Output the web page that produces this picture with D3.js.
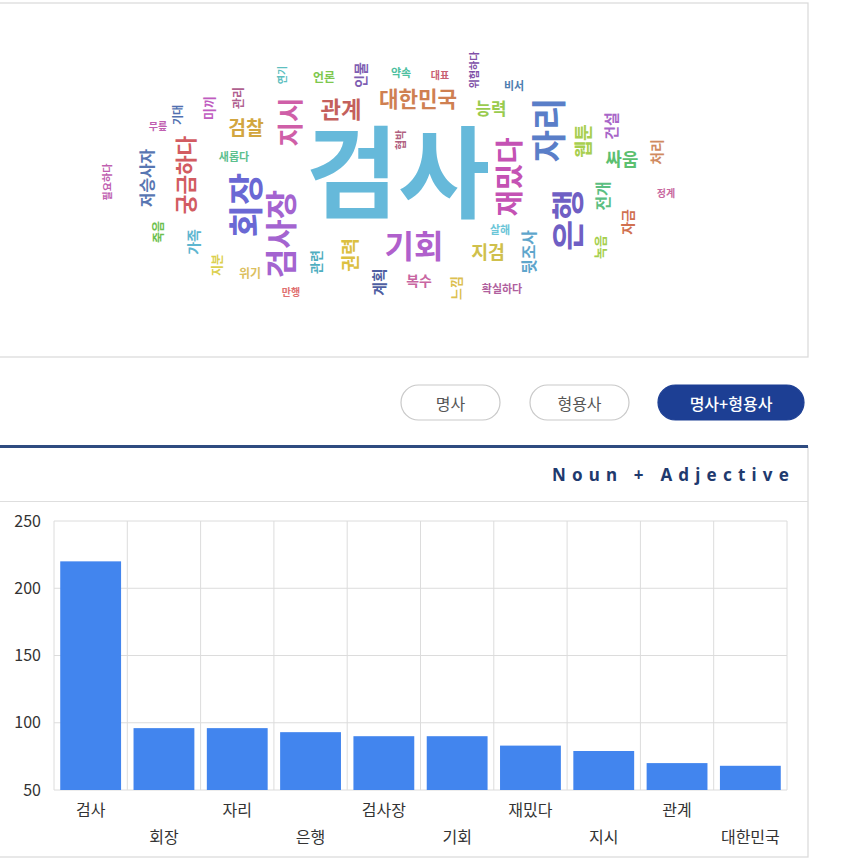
<!DOCTYPE html>
<html><head><meta charset="utf-8">
<script src="https://cdn.jsdelivr.net/npm/d3@7"></script>
<style>body{margin:0;background:#fff}svg{display:block}</style>
</head><body>
<svg id="c" width="850" height="860"></svg>
<script>
// ---------- DATA ----------
const categories = ["검사","회장","자리","은행","검사장","기회","재밌다","지시","관계","대한민국"];
const counts     = [220, 96, 96, 93, 90, 90, 83, 79, 70, 68];
const yTicks     = [50, 100, 150, 200, 250];
const buttons    = ["명사","형용사","명사+형용사"];
const chartTitle = "Noun + Adjective";

// word cloud: word, weight (frequency estimate)
const cloudWords = ["검사","회장","자리","은행","검사장","기회","재밌다","지시","관계","대한민국",
  "궁금하다","검찰","능력","지검","권력","웹툰","싸움","저승사자","뒷조사","전개",
  "계획","건설","복수","인물","가족","자금","처리","느낌","녹음","미끼",
  "관련","언론","죽음","지분","위기","관리","살해","확실하다","비서","약속",
  "기대","새롭다","협박","위험하다","대표","연기","무릎","필요하다","정계","만행"];
const cloudWeights = [220,96,96,93,90,90,83,79,70,68,
  68,64,59,62,62,62,61,57,57,57,
  55,55,53,53,53,53,53,51,51,51,
  51,49,49,49,49,49,47,47,47,47,
  47,47,47,45,45,45,45,45,45,45];
// layout of the cloud (center x, center y, rotation)
const cloudX = [398,243,546,565,279,414,507,288,341,418,
  184,246,491,488,349,582,622,146,528,602,
  378,610,419,360,193,627,656,455,599,208,
  315,324,157,216,250,237,500,502,514,401,
  177,234,400,473,440,281,158,106,666,291];
const cloudY = [166,205,130,220,234,244,177,122,108,97,
  175,127,107,251,255,141,158,178,252,196,
  282,126,280,75,242,222,152,288,247,108,
  262,76,232,265,272,98,229,288,85,72,
  115,156,140,70,74,75,125,182,192,291];
const cloudRot = [0,-90,-90,-90,-90,0,-90,-90,0,0,
  -90,0,0,0,-90,-90,0,-90,-90,-90,
  -90,-90,0,-90,-90,-90,-90,-90,-90,-90,
  -90,0,-90,-90,0,-90,0,0,0,0,
  -90,0,-90,-90,0,-90,0,-90,0,0];
const cloudColors = ["#66b9da","#6a68d4","#5a7ec8","#6f5fc4","#a464d0","#b060cc","#c452b4","#cf5fa8","#c4605c","#cf8052",
  "#d25c62","#d2a640","#9acb4e","#cfc04c","#dcc040","#a8cf4e","#5cc070","#5876b2","#5ea6cc","#5cbf82",
  "#4e5ea2","#a866c8","#c866a2","#7e5eb2","#5eb6d0","#d07050","#d08a60","#dcc050","#a6cf4e","#c05cc0",
  "#4eaec0","#7ec84e","#6cc04e","#dcd04e","#dcc060","#b06090","#6cc6d8","#b0609e","#4e7eb0","#4ebfa0",
  "#5070b0","#5cc08e","#b06080","#8050a8","#c86070","#5ebfc0","#c05eb0","#c060b0","#c868a0","#e07070"];

// ---------- DRAW ----------
const svg = d3.select("#c");
const KR = "'Noto Sans CJK KR','Noto Sans',sans-serif";

// top panel
svg.append("rect").attr("x",-2).attr("y",3).attr("width",810).attr("height",354)
  .attr("fill","#fff").attr("stroke","#d9d9d9").attr("stroke-width",1.2);

const fsz = d3.scaleLinear().domain([45,96,220]).range([10,35,100]);
const cloud = svg.append("g");
cloudWords.forEach((w,i)=>{
  cloud.append("text")
    .attr("transform",`translate(${cloudX[i]},${cloudY[i]}) rotate(${cloudRot[i]})`)
    .attr("text-anchor","middle").attr("dominant-baseline","central")
    .attr("font-family",KR).attr("font-weight",700)
    .attr("font-size",fsz(cloudWeights[i]))
    .attr("fill",cloudColors[i]).text(w);
});

// buttons
const btnX = d3.scaleOrdinal().domain(buttons).range([401,530,658]);
const btnW = d3.scaleOrdinal().domain(buttons).range([99,99,146]);
buttons.forEach((b,i)=>{
  const active = i===buttons.length-1;
  svg.append("rect").attr("x",btnX(b)).attr("y",385).attr("width",btnW(b)).attr("height",35)
    .attr("rx",17.5).attr("fill",active?"#1d3f94":"#fff")
    .attr("stroke",active?"#1d3f94":"#c9c9c9").attr("stroke-width",1.2);
  svg.append("text").attr("x",btnX(b)+btnW(b)/2).attr("y",403)
    .attr("text-anchor","middle").attr("dominant-baseline","central")
    .attr("font-family",KR).attr("font-size",16).attr("font-weight",active?500:400)
    .attr("fill",active?"#fff":"#555").text(b);
});

// bar panel frame
svg.append("rect").attr("x",-2).attr("y",447).attr("width",810).attr("height",410)
  .attr("fill","#fff").attr("stroke","#d9d9d9").attr("stroke-width",1.2);
svg.append("line").attr("x1",0).attr("x2",808).attr("y1",446.5).attr("y2",446.5)
  .attr("stroke","#2f4b80").attr("stroke-width",3);
svg.append("line").attr("x1",0).attr("x2",808).attr("y1",501.5).attr("y2",501.5)
  .attr("stroke","#dedede").attr("stroke-width",1.2);
svg.append("text").attr("x",795).attr("y",481).attr("text-anchor","end")
  .attr("font-family","'Noto Sans',sans-serif").attr("font-weight",700)
  .attr("font-size",17).attr("letter-spacing",6.2).attr("fill","#1f3a6e").text(chartTitle);

// plot
const L=54, R=787, T=521, B=790;
const x = d3.scaleBand().domain(categories).range([L,R]).paddingInner(0.17).paddingOuter(0.085);
const xg = d3.scaleBand().domain(categories).range([L,R]);
const y = d3.scaleLinear().domain([50,250]).range([B,T]);

const plot = svg.append("g");
plot.selectAll(".hg").data(yTicks).join("line")
  .attr("x1",L).attr("x2",R).attr("y1",d=>y(d)).attr("y2",d=>y(d))
  .attr("stroke","#dcdcdc").attr("stroke-width",1);
plot.selectAll(".vg").data(categories).join("line")
  .attr("x1",d=>xg(d)).attr("x2",d=>xg(d)).attr("y1",T).attr("y2",B)
  .attr("stroke","#dcdcdc").attr("stroke-width",1);
plot.append("line").attr("x1",R).attr("x2",R).attr("y1",T).attr("y2",B)
  .attr("stroke","#dcdcdc");

plot.selectAll(".bar").data(categories).join("rect")
  .attr("x",d=>x(d)).attr("width",x.bandwidth())
  .attr("y",(d,i)=>y(counts[i])).attr("height",(d,i)=>B-y(counts[i]))
  .attr("fill","#4285ee");

// y axis
const ya = svg.append("g").attr("transform",`translate(${L},0)`)
  .call(d3.axisLeft(y).tickValues(yTicks).tickSize(0).tickPadding(13));
ya.select(".domain").remove();
ya.selectAll("text").attr("font-family",KR).attr("font-size",16).attr("fill","#333");

// x axis (staggered)
const xa = svg.append("g").attr("transform",`translate(0,${B})`)
  .call(d3.axisBottom(xg).tickSize(0).tickPadding(15));
xa.select(".domain").remove();
xa.selectAll("text").attr("font-family",KR).attr("font-size",16).attr("fill","#333")
  .attr("dy",(d,i)=> i%2 ? "2.35em" : "0.71em");
</script>
</body></html>
